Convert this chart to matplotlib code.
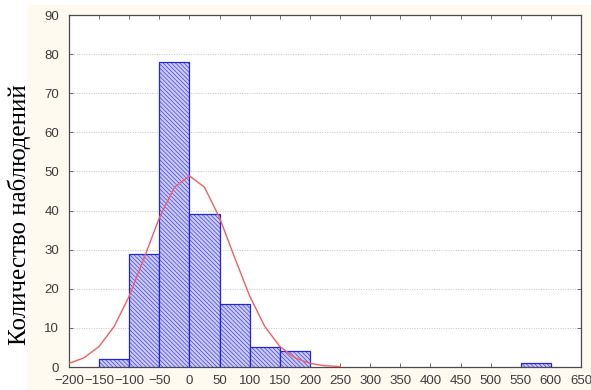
import numpy as np
import matplotlib
matplotlib.use("Agg")
import matplotlib.pyplot as plt
from matplotlib.patches import Rectangle

# Histogram bins (left edges, width 50) and observed counts
bin_left = [-150, -100, -50, 0, 50, 100, 150, 550]
counts = [2, 29, 78, 39, 16, 5, 4, 1]
bin_width = 50

# Expected normal curve parameters
n_obs = sum(counts)
mu = 0.0
sigma = 71.0

x_ticks = list(range(-200, 651, 50))
y_ticks = list(range(0, 91, 10))

fig = plt.figure(figsize=(5.91, 3.90), dpi=100)
fig.patch.set_facecolor("white")
fig.patches.append(Rectangle((27 / 591, 0), 1 - 27 / 591, 1 - 5 / 390,
                             transform=fig.transFigure, facecolor="#fffaef",
                             edgecolor="none", zorder=-10))

ax = fig.add_axes([69 / 591, 1 - 367 / 390, 512 / 591, 352 / 390])
ax.set_facecolor("white")

plt.rcParams["hatch.color"] = "#6a6aea"
plt.rcParams["hatch.linewidth"] = 0.4
ax.bar(bin_left, counts, width=bin_width, align="edge", facecolor="#cacaf6",
       edgecolor="#2424d8", linewidth=0.9, hatch="\\" * 8, zorder=3)

xc = np.arange(-200, 251, 25)
yc = n_obs * bin_width / (sigma * np.sqrt(2 * np.pi)) * np.exp(-0.5 * ((xc - mu) / sigma) ** 2)
ax.plot(xc, yc, color="#f06060", linewidth=1.0, zorder=4)

ax.set_xlim(-200, 650)
ax.set_ylim(0, 90)
ax.set_xticks(x_ticks)
ax.set_yticks(y_ticks)
ax.yaxis.grid(True, linestyle=(0, (1, 1.5)), color="#c4c4c4", linewidth=0.7, zorder=0)
ax.tick_params(axis="both", direction="in", length=3, width=0.6, colors="#555555",
               labelsize=9.5, labelcolor="#3c3c3c", top=True, right=True)
ax.tick_params(axis="x", pad=6)
ax.tick_params(axis="y", pad=7)
for lbl in ax.get_xticklabels() + ax.get_yticklabels():
    lbl.set_family("Liberation Sans")
for s in ax.spines.values():
    s.set_color("#4a4a4a")
    s.set_linewidth(0.9)

fig.text(19 / 591, 1 - 215 / 390, "Количество наблюдений", rotation=90,
         ha="center", va="center", fontsize=18, family="Liberation Serif",
         color="black")

fig.savefig("out.png", dpi=100)
